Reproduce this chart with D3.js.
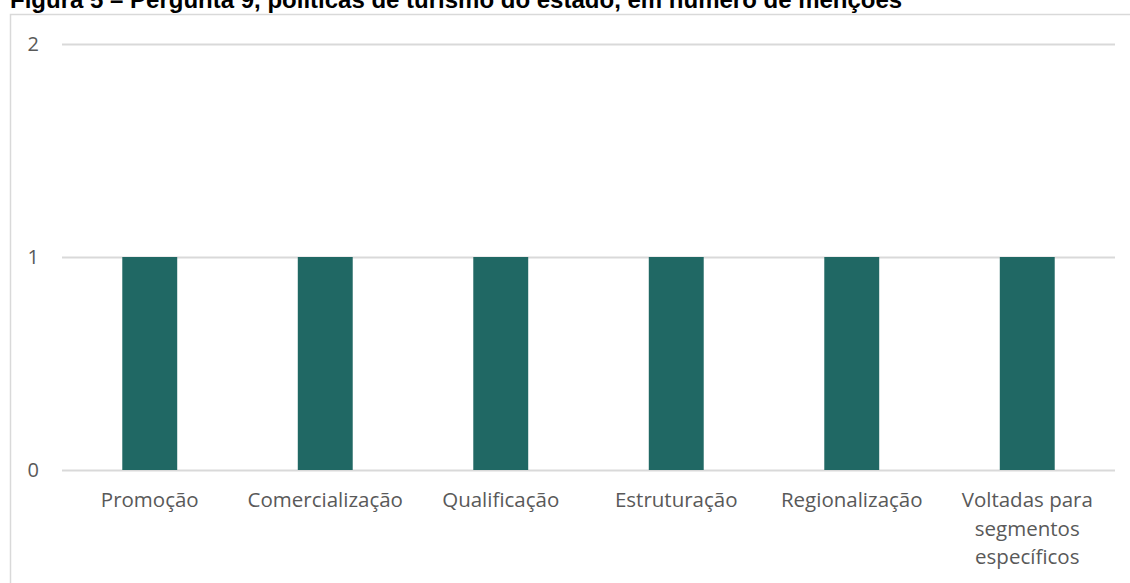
<!DOCTYPE html>
<html>
<head>
<meta charset="utf-8">
<script src="https://cdn.jsdelivr.net/npm/d3@7"></script>
<style>
  body { margin: 0; background: #fff; }
  svg { display: block; }
</style>
</head>
<body>
<div id="chart"></div>
<script>
var categories = ["Promoção", "Comercialização", "Qualificação", "Estruturação", "Regionalização", "Voltadas para segmentos específicos"];
var mentions = [1, 1, 1, 1, 1, 1];
var yTicks = [0, 1, 2];

var width = 1130, height = 583;
var plotLeft = 62, plotRight = 1115, plotTop = 44, plotBottom = 470;
var barColor = "#206864";
var textColor = "#595959";
var gridColor = "#d9d9d9";
var labelFont = "'Open Sans', Lato, sans-serif";

var svg = d3.select("#chart").append("svg")
  .attr("width", width)
  .attr("height", height);

// chart frame (runs off the page at right/bottom)
svg.append("rect")
  .attr("x", 10.5).attr("y", 14.5)
  .attr("width", 1200).attr("height", 700)
  .attr("fill", "none")
  .attr("stroke", gridColor)
  .attr("stroke-width", 1.5);

// title is cropped at the top edge in the source picture
svg.append("text")
  .attr("x", 10).attr("y", 8)
  .attr("font-family", "'Liberation Sans', Arial, sans-serif")
  .attr("font-weight", "bold")
  .attr("font-size", 24)
  .attr("fill", "#000")
  .text("Figura 5 – Pergunta 9, políticas de turismo do estado, em número de menções");

var x = d3.scaleBand()
  .domain(categories)
  .range([plotLeft, plotRight])
  .paddingInner(0.687)
  .paddingOuter(0.3435);

var y = d3.scaleLinear()
  .domain([0, 2])
  .range([plotBottom, plotTop]);

// gridlines + y labels
var yAxis = svg.append("g")
  .attr("transform", "translate(" + plotLeft + ",0)")
  .call(d3.axisLeft(y).tickValues(yTicks).tickSize(-(plotRight - plotLeft)).tickPadding(23).tickFormat(d3.format("d")));
yAxis.select(".domain").remove();
yAxis.selectAll(".tick line").attr("stroke", gridColor).attr("stroke-width", 2);
yAxis.selectAll(".tick text")
  .attr("fill", textColor)
  .attr("font-family", labelFont)
  .attr("font-size", 20);

svg.append("g")
  .selectAll("rect")
  .data(mentions)
  .enter()
  .append("rect")
  .attr("x", (d, i) => x(categories[i]))
  .attr("width", x.bandwidth())
  .attr("y", d => y(d))
  .attr("height", d => y(0) - y(d))
  .attr("fill", barColor);

// category labels, wrapped like the original
var wrapped = {"Voltadas para segmentos específicos": ["Voltadas para", "segmentos", "específicos"]};
var xAxis = svg.append("g")
  .attr("transform", "translate(0," + plotBottom + ")")
  .call(d3.axisBottom(x).tickSize(0).tickPadding(0));
xAxis.select(".domain").remove();
xAxis.selectAll(".tick text").remove();
xAxis.selectAll(".tick").each(function(d) {
  var lines = wrapped[d] || [d];
  var t = d3.select(this).append("text")
    .attr("text-anchor", "middle")
    .attr("fill", textColor)
    .attr("font-family", labelFont)
    .attr("font-size", 20.5);
  lines.forEach(function(l, j) {
    t.append("tspan").attr("x", 0).attr("y", 37 + j * 28.5).text(l);
  });
});
</script>
</body>
</html>
